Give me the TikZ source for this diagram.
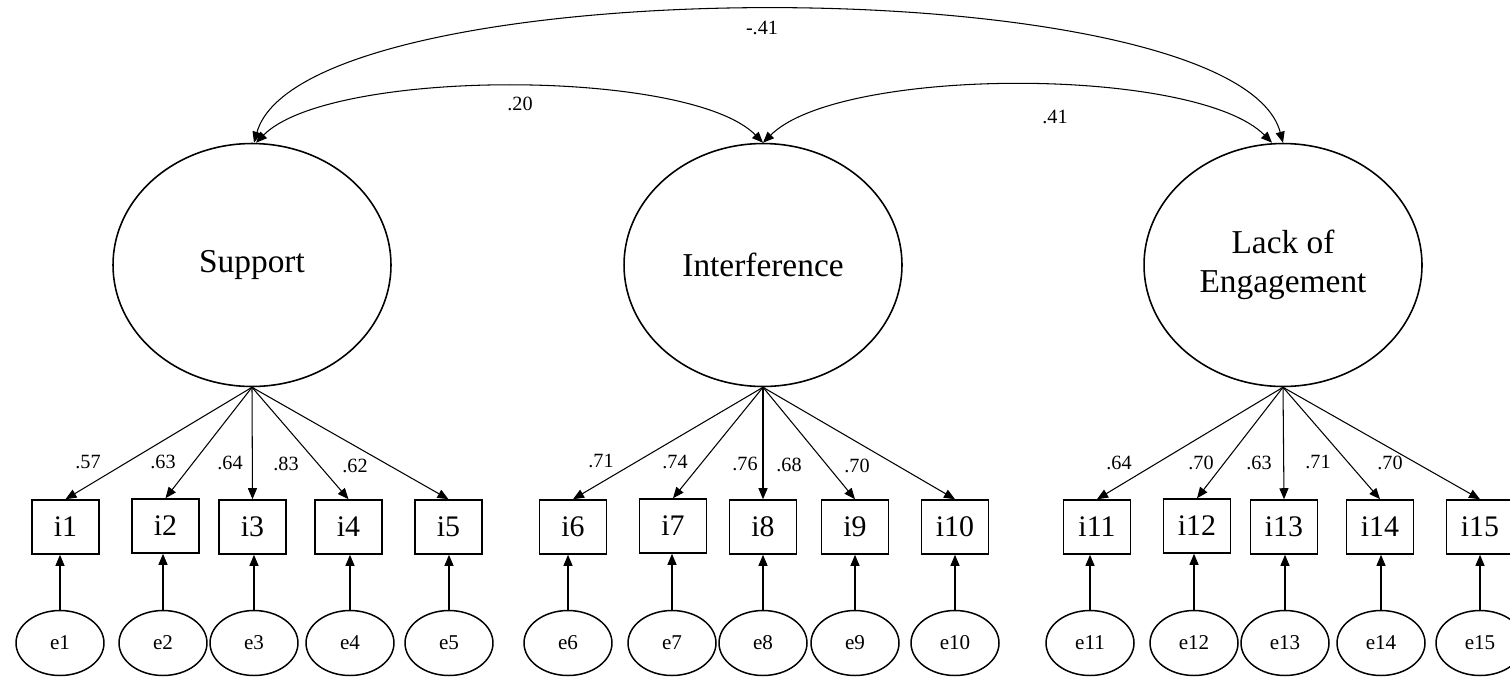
\documentclass[tikz,border=0pt]{standalone}
\usepackage{fontspec}
\setmainfont{Liberation Serif}
\usepackage{tikz}
\usetikzlibrary{arrows.meta,shapes.geometric}
\definecolor{semInk}{HTML}{000000}

\begin{document}
\begin{tikzpicture}[x=0.02cm,y=-0.02cm,
  latent/.style={ellipse,draw=semInk,line width=0.9pt,minimum width=5.56cm,minimum height=4.86cm,
    align=center,font=\fontsize{19}{22}\selectfont},
  item/.style={rectangle,draw=semInk,line width=0.9pt,minimum width=1.34cm,minimum height=1.08cm,
    inner sep=0pt,font=\fontsize{17}{19}\selectfont},
  err/.style={ellipse,draw=semInk,line width=0.85pt,minimum width=1.76cm,minimum height=1.3cm,
    inner sep=0pt,font=\fontsize{12}{14}\selectfont},
  coef/.style={font=\fontsize{11.5}{13}\selectfont,inner sep=1pt},
  path/.style={semInk,line width=0.6pt,-{Triangle[length=0.22cm,width=0.18cm]}},
  cov/.style={semInk,line width=0.6pt,{Triangle[length=0.22cm,width=0.18cm]}-{Triangle[length=0.22cm,width=0.18cm]}}]
  \useasboundingbox (0,0) rectangle (1510,677);

  % latent factors
  \node[latent] (sup) at (252,265) {Support};
  \node[latent] (intf) at (763,265) {Interference};
  \node[latent] (loe) at (1283,265) {Lack of\\Engagement};

  % covariances
  \draw[cov] ([xshift=0.04cm]sup.north) .. controls (304,-34) and (1236,-34) .. (loe.north);
  \draw[cov] ([xshift=0.08cm]sup.north) .. controls (330,68) and (690,68) .. (intf.north);
  \draw[cov] (intf.north) .. controls (840,66) and (1196,66) .. ([xshift=-0.22cm]loe.north);
  \node[coef] (r13) at (762,28) {-.41};
  \node[coef] (r12) at (520,104) {.20};
  \node[coef] (r23) at (1055,117) {.41};

  % items
  \node[item] (i1) at (65.5,527) {i1};
  \node[item] (i2) at (165.5,526) {i2};
  \node[item] (i3) at (252.5,527) {i3};
  \node[item] (i4) at (348.5,527) {i4};
  \node[item] (i5) at (448.5,527) {i5};
  \node[item] (i6) at (573,527) {i6};
  \node[item] (i7) at (673,526) {i7};
  \node[item] (i8) at (763,527) {i8};
  \node[item] (i9) at (855,527) {i9};
  \node[item] (i10) at (955,527) {i10};
  \node[item] (i11) at (1097,527) {i11};
  \node[item] (i12) at (1197,526) {i12};
  \node[item] (i13) at (1284,527) {i13};
  \node[item] (i14) at (1380,527) {i14};
  \node[item] (i15) at (1480,527) {i15};

  % errors
  \node[err] (e1) at (60,643) {e1};
  \node[err] (e2) at (163,643) {e2};
  \node[err] (e3) at (254,643) {e3};
  \node[err] (e4) at (350,643) {e4};
  \node[err] (e5) at (449,643) {e5};
  \node[err] (e6) at (568,643) {e6};
  \node[err] (e7) at (672,643) {e7};
  \node[err] (e8) at (763,643) {e8};
  \node[err] (e9) at (855,643) {e9};
  \node[err] (e10) at (955,643) {e10};
  \node[err] (e11) at (1090,643) {e11};
  \node[err] (e12) at (1194,643) {e12};
  \node[err] (e13) at (1285,643) {e13};
  \node[err] (e14) at (1381,643) {e14};
  \node[err] (e15) at (1480,643) {e15};

  % loadings
  \draw[path] (sup.south) -- (i1.north);
  \draw[path] (sup.south) -- (i2.north);
  \draw[path] (sup.south) -- (i3.north);
  \draw[path] (sup.south) -- (i4.north);
  \draw[path] (sup.south) -- (i5.north);
  \draw[path] (intf.south) -- (i6.north);
  \draw[path] (intf.south) -- (i7.north);
  \draw[path] (intf.south) -- (i8.north);
  \draw[path] (intf.south) -- (i9.north);
  \draw[path] (intf.south) -- (i10.north);
  \draw[path] (loe.south) -- (i11.north);
  \draw[path] (loe.south) -- (i12.north);
  \draw[path] (loe.south) -- (i13.north);
  \draw[path] (loe.south) -- (i14.north);
  \draw[path] (loe.south) -- (i15.north);

  \node[coef] (l1) at (88,462) {.57};
  \node[coef] (l2) at (163,462) {.63};
  \node[coef] (l3) at (230,463) {.64};
  \node[coef] (l4) at (286,464) {.83};
  \node[coef] (l5) at (355,466) {.62};
  \node[coef] (l6) at (601,461) {.71};
  \node[coef] (l7) at (675,462) {.74};
  \node[coef] (l8) at (745,464) {.76};
  \node[coef] (l9) at (789,465) {.68};
  \node[coef] (l10) at (857,466) {.70};
  \node[coef] (l11) at (1119,463) {.64};
  \node[coef] (l12) at (1201,463) {.70};
  \node[coef] (l13) at (1259,463) {.63};
  \node[coef] (l14) at (1318,462) {.71};
  \node[coef] (l15) at (1390,463) {.70};

  % residual paths
  \draw[path] (e1.north) -- (e1 |- i1.south);
  \draw[path] (e2.north) -- (e2 |- i2.south);
  \draw[path] (e3.north) -- (e3 |- i3.south);
  \draw[path] (e4.north) -- (e4 |- i4.south);
  \draw[path] (e5.north) -- (e5 |- i5.south);
  \draw[path] (e6.north) -- (e6 |- i6.south);
  \draw[path] (e7.north) -- (e7 |- i7.south);
  \draw[path] (e8.north) -- (e8 |- i8.south);
  \draw[path] (e9.north) -- (e9 |- i9.south);
  \draw[path] (e10.north) -- (e10 |- i10.south);
  \draw[path] (e11.north) -- (e11 |- i11.south);
  \draw[path] (e12.north) -- (e12 |- i12.south);
  \draw[path] (e13.north) -- (e13 |- i13.south);
  \draw[path] (e14.north) -- (e14 |- i14.south);
  \draw[path] (e15.north) -- (e15 |- i15.south);
\end{tikzpicture}
\end{document}
